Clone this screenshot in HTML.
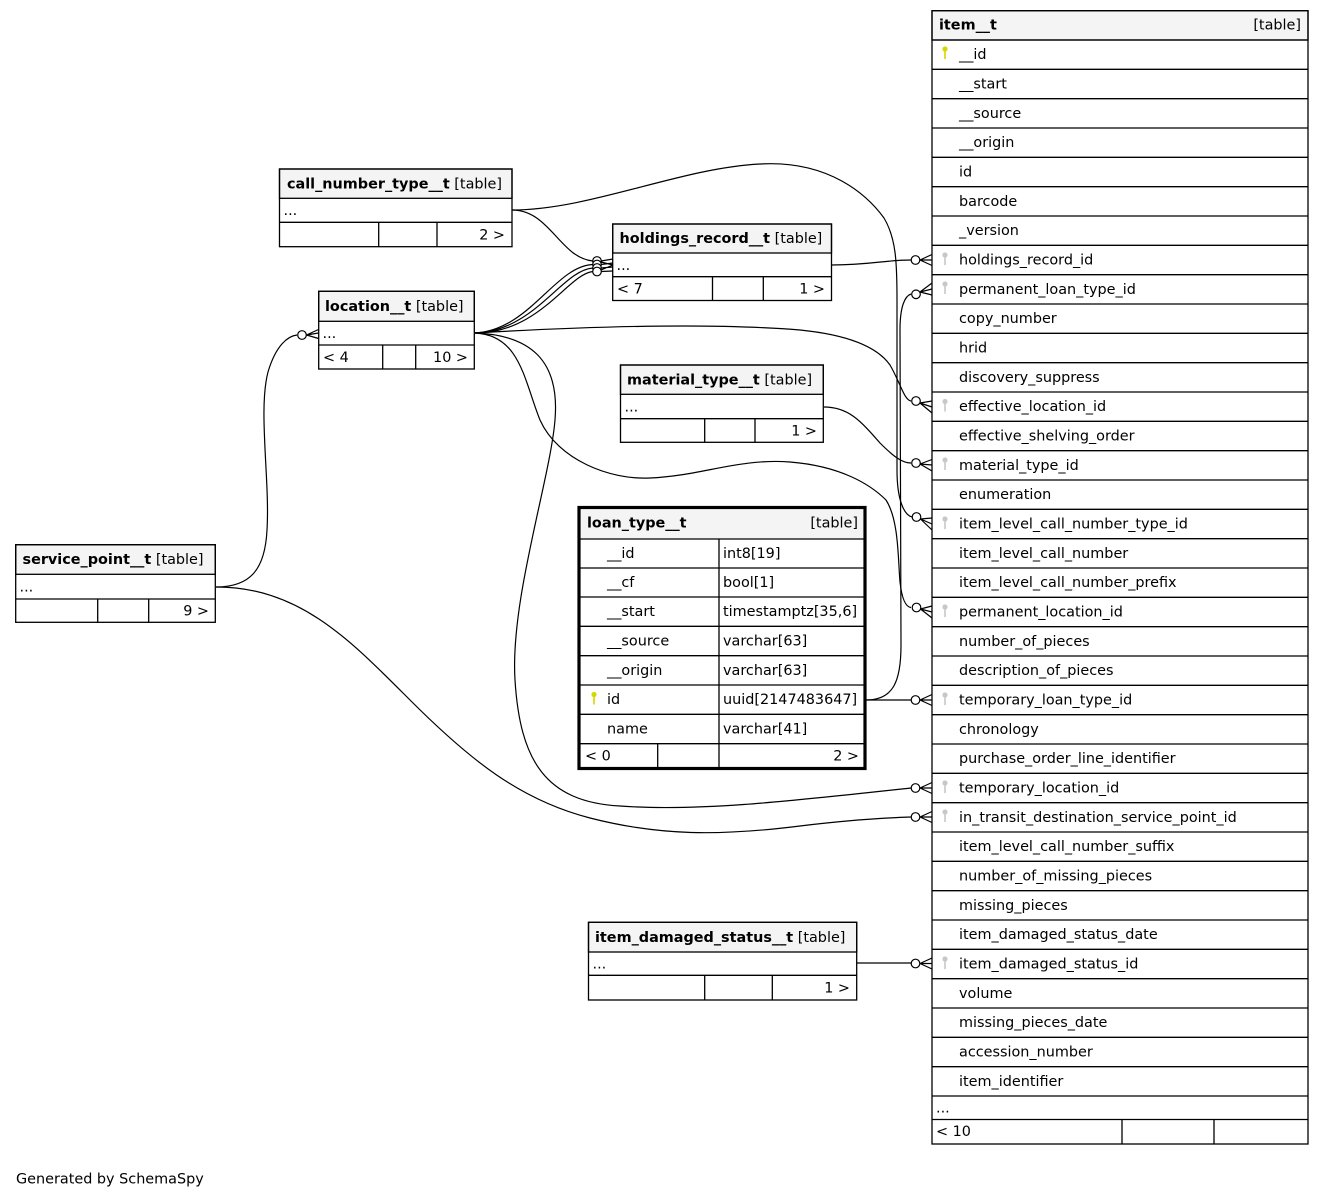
<!DOCTYPE html>
<html><head><meta charset="utf-8"><style>
html,body{margin:0;padding:0;background:#fff;}
svg{display:block;}
text{font-family:"DejaVu Sans","Liberation Sans",sans-serif;font-size:14.4px;fill:#000;}
.b{font-weight:bold;}
.t{fill:none;stroke:#000;stroke-width:1.3;}
.h{fill:#f4f4f4;stroke:#000;stroke-width:1.3;}
.e{fill:none;stroke:#000;stroke-width:1.2;}
.c{fill:#fff;stroke:#000;stroke-width:1.2;}
.k{fill:#c8c8c8;}
.y{fill:#d6d600;}
</style></head><body>
<svg width="1324" height="1199" viewBox="0 0 1324 1199" xmlns="http://www.w3.org/2000/svg">
<defs>
<g id="gk"><circle cx="0" cy="0" r="2.6" class="k"/><rect x="-0.8" y="1" width="1.6" height="9" class="k"/></g>
<g id="yk"><circle cx="0" cy="0" r="2.6" class="y"/><rect x="-0.8" y="1" width="1.6" height="9" class="y"/></g>
</defs>

<!-- ================= EDGES ================= -->
<!-- call_number_type -> item_level_call_number_type_id -->
<path class="e" d="M512,210 C590,210 680,168 760,164 C830,160 868,196 884,218 C896,238 897,262 897,300 L897,470 C897,500 904,515 912,517"/>
<!-- call_number_type -> holdings_record -->
<path class="e" d="M512,210 C550,210 560,258 593,261"/>
<!-- location -> holdings (3) -->
<path class="e" d="M475,333 C530,330 555,266 593,264.5"/>
<path class="e" d="M475,333 C535,331 562,270 593,268"/>
<path class="e" d="M475,333 C540,333 568,274 593,271.5"/>
<!-- holdings -> item -->
<path class="e" d="M832,265 C870,265 885,260 911,260"/>
<!-- loan_type -> permanent_loan_type_id -->
<path class="e" d="M866,700 C893,700 901,682 901,645 L900,330 C900,306 905,296 911,294"/>
<!-- location -> effective_location_id -->
<path class="e" d="M475,333 C560,328 700,322 800,330 C850,335 878,348 890,365 C900,382 904,400 911,401"/>
<!-- material -> material_type_id -->
<path class="e" d="M824,407 C848,407 860,420 880,443 C895,458 903,463 911,463"/>
<!-- location -> permanent_location_id -->
<path class="e" d="M475,333 C520,335 524,380 540,420 C558,460 610,480 650,478 C700,476 740,458 790,462 C840,466 870,484 886,500 C899,520 898,560 900,582 C902,600 906,607 911,607.5"/>
<!-- location -> temporary_location_id -->
<path class="e" d="M475,333 C530,335 560,360 555,420 C550,480 510,600 515,680 C520,760 545,802 620,806 C700,812 800,800 911,788"/>
<!-- loan_type -> temporary_loan_type_id -->
<path class="e" d="M866,700 L911,700"/>
<!-- service_point -> location -->
<path class="e" d="M216,587 C250,587 265,570 267,530 C270,480 258,410 268,372 C276,345 288,336 297,335"/>
<!-- service_point -> in_transit -->
<path class="e" d="M216,587 C300,587 350,640 410,700 C470,760 520,800 590,818 C660,836 720,836 800,826 C850,820 880,818 911,817"/>
<!-- damaged -> item -->
<path class="e" d="M857,963 L911,963"/>

<!-- crow's feet + circles at item_t -->
<g>
<circle class="c" cx="915.5" cy="260" r="4.3"/><path class="e" d="M920,260 L932,254.5 M920,260 L932,260 M920,260 L932,265.5"/>
<circle class="c" cx="916" cy="294.3" r="4.3"/><path class="e" d="M920,292 L932,283 M920,292 L932,289 M920,292 L932,295"/>
<circle class="c" cx="916" cy="401" r="4.3"/><path class="e" d="M920,403 L932,401 M920,403 L932,407 M920,403 L932,413"/>
<circle class="c" cx="916" cy="463" r="4.3"/><path class="e" d="M920,464 L932,459.5 M920,464 L932,465 M920,464 L932,471"/>
<circle class="c" cx="916.5" cy="517" r="4.3"/><path class="e" d="M920.5,519 L932,518 M920.5,519 L932,524 M920.5,519 L932,530"/>
<circle class="c" cx="916.5" cy="607.5" r="4.3"/><path class="e" d="M920.5,609 L932,606 M920.5,609 L932,612 M920.5,609 L932,618"/>
<circle class="c" cx="915.5" cy="700" r="4.3"/><path class="e" d="M920,700 L932,694.5 M920,700 L932,700 M920,700 L932,705.5"/>
<circle class="c" cx="915.5" cy="788" r="4.3"/><path class="e" d="M920,788 L932,782.5 M920,788 L932,788 M920,788 L932,793.5"/>
<circle class="c" cx="915.5" cy="817" r="4.3"/><path class="e" d="M920,817 L932,811.5 M920,817 L932,817 M920,817 L932,822.5"/>
<circle class="c" cx="915.5" cy="963.5" r="4.3"/><path class="e" d="M920,963.5 L932,958 M920,963.5 L932,963.5 M920,963.5 L932,969"/>
</g>
<!-- at location -->
<circle class="c" cx="302" cy="335" r="4.3"/><path class="e" d="M306.5,335 L318.5,329.5 M306.5,335 L318.5,333 M306.5,335 L318.5,338.5"/>
<!-- at holdings -->
<circle class="c" cx="597" cy="261" r="4.3"/>
<circle class="c" cx="597" cy="264.5" r="4.3"/>
<circle class="c" cx="597" cy="268" r="4.3"/>
<circle class="c" cx="597" cy="271.5" r="4.3"/>
<path class="e" d="M601,261 L613,259 M601,264.5 L613,263 M601,268 L613,267 M601,271.5 L613,271 M601,262 L613,265 M601,270 L613,265"/>

<!-- ================= item__t ================= -->
<rect class="h" x="932" y="10.7" width="376" height="29.3"/>
<text class="b" x="939" y="29.5">item__t</text>
<text x="1301" y="29.5" text-anchor="end">[table]</text>
<rect class="t" x="932" y="10.7" width="376" height="1133.3"/>
<g class="t">
<path class="t" d="M932,40H1308 M932,69.33H1308 M932,98.67H1308 M932,128H1308 M932,157.33H1308 M932,186.67H1308 M932,216H1308 M932,245.33H1308 M932,274.67H1308 M932,304H1308 M932,333.33H1308 M932,362.67H1308 M932,392H1308 M932,421.33H1308 M932,450.67H1308 M932,480H1308 M932,509.33H1308 M932,538.67H1308 M932,568H1308 M932,597.33H1308 M932,626.67H1308 M932,656H1308 M932,685.33H1308 M932,714.67H1308 M932,744H1308 M932,773.33H1308 M932,802.67H1308 M932,832H1308 M932,861.33H1308 M932,890.67H1308 M932,920H1308 M932,949.33H1308 M932,978.67H1308 M932,1008H1308 M932,1037.33H1308 M932,1066.67H1308 M932,1096H1308 M932,1119.5H1308 M1122,1119.5V1144 M1214,1119.5V1144"/>
</g>
<use href="#yk" x="945" y="49"/>
<use href="#gk" x="945" y="255"/>
<use href="#gk" x="945" y="284"/>
<use href="#gk" x="945" y="401.5"/>
<use href="#gk" x="945" y="460"/>
<use href="#gk" x="945" y="519"/>
<use href="#gk" x="945" y="607"/>
<use href="#gk" x="945" y="695"/>
<use href="#gk" x="945" y="783"/>
<use href="#gk" x="945" y="812"/>
<use href="#gk" x="945" y="959"/>
<text x="959" y="59.2">__id</text>
<text x="959" y="88.5">__start</text>
<text x="959" y="117.8">__source</text>
<text x="959" y="147.2">__origin</text>
<text x="959" y="176.5">id</text>
<text x="959" y="205.8">barcode</text>
<text x="959" y="235.2">_version</text>
<text x="959" y="264.5">holdings_record_id</text>
<text x="959" y="293.8">permanent_loan_type_id</text>
<text x="959" y="323.2">copy_number</text>
<text x="959" y="352.5">hrid</text>
<text x="959" y="381.8">discovery_suppress</text>
<text x="959" y="411.2">effective_location_id</text>
<text x="959" y="440.5">effective_shelving_order</text>
<text x="959" y="469.8">material_type_id</text>
<text x="959" y="499.2">enumeration</text>
<text x="959" y="528.5">item_level_call_number_type_id</text>
<text x="959" y="557.8">item_level_call_number</text>
<text x="959" y="587.2">item_level_call_number_prefix</text>
<text x="959" y="616.5">permanent_location_id</text>
<text x="959" y="645.8">number_of_pieces</text>
<text x="959" y="675.2">description_of_pieces</text>
<text x="959" y="704.5">temporary_loan_type_id</text>
<text x="959" y="733.8">chronology</text>
<text x="959" y="763.2">purchase_order_line_identifier</text>
<text x="959" y="792.5">temporary_location_id</text>
<text x="959" y="821.8">in_transit_destination_service_point_id</text>
<text x="959" y="851.2">item_level_call_number_suffix</text>
<text x="959" y="880.5">number_of_missing_pieces</text>
<text x="959" y="909.8">missing_pieces</text>
<text x="959" y="939.2">item_damaged_status_date</text>
<text x="959" y="968.5">item_damaged_status_id</text>
<text x="959" y="997.8">volume</text>
<text x="959" y="1027.2">missing_pieces_date</text>
<text x="959" y="1056.5">accession_number</text>
<text x="959" y="1085.8">item_identifier</text>
<text x="936" y="1112.5">...</text>
<text x="936" y="1136">&lt; 10</text>

<!-- ================= call_number_type__t ================= -->
<rect class="h" x="279.5" y="169" width="232.5" height="29.3"/>
<rect class="t" x="279.5" y="169" width="232.5" height="77.7"/>
<path class="t" d="M279.5,222.3H512 M378.7,222.3V246.7 M437,222.3V246.7"/>
<text x="287" y="188.5"><tspan class="b">call_number_type__t</tspan> [table]</text>
<text x="283.5" y="215">...</text>
<text x="505" y="239.5" text-anchor="end">2 &gt;</text>

<!-- ================= holdings_record__t ================= -->
<rect class="h" x="612.7" y="224" width="218.8" height="29"/>
<rect class="t" x="612.7" y="224" width="218.8" height="76.5"/>
<path class="t" d="M612.7,276.7H831.5 M712.5,276.7V300.5 M763.3,276.7V300.5"/>
<text x="619.5" y="243"><tspan class="b">holdings_record__t</tspan> [table]</text>
<text x="616.5" y="270">...</text>
<text x="617" y="293.5">&lt; 7</text>
<text x="825" y="293.5" text-anchor="end">1 &gt;</text>

<!-- ================= location__t ================= -->
<rect class="h" x="318.7" y="291.3" width="155.6" height="30"/>
<rect class="t" x="318.7" y="291.3" width="155.6" height="77.7"/>
<path class="t" d="M318.7,345H474.3 M382.7,345V369 M415.7,345V369"/>
<text x="325" y="311"><tspan class="b">location__t</tspan> [table]</text>
<text x="322.5" y="338">...</text>
<text x="323" y="362">&lt; 4</text>
<text x="468" y="362" text-anchor="end">10 &gt;</text>

<!-- ================= material_type__t ================= -->
<rect class="h" x="620.5" y="365" width="202.8" height="29.3"/>
<rect class="t" x="620.5" y="365" width="202.8" height="77.3"/>
<path class="t" d="M620.5,418.7H823.3 M704.7,418.7V442.3 M755,418.7V442.3"/>
<text x="627" y="384.5"><tspan class="b">material_type__t</tspan> [table]</text>
<text x="624.5" y="411.5">...</text>
<text x="817" y="435.5" text-anchor="end">1 &gt;</text>

<!-- ================= loan_type__t ================= -->
<rect class="h" x="579.5" y="508" width="285" height="31" style="stroke:none"/>
<path class="t" d="M579.5,539H864.5 M579.5,568H864.5 M579.5,597H864.5 M579.5,626.3H864.5 M579.5,655.7H864.5 M579.5,685H864.5 M579.5,714.3H864.5 M579.5,743.7H864.5 M719,539V768 M657.7,743.7V768"/>
<rect x="579" y="507.5" width="286" height="261" style="fill:none;stroke:#000;stroke-width:3.2"/>
<text class="b" x="587" y="527.5">loan_type__t</text>
<text x="858" y="527.5" text-anchor="end">[table]</text>
<use href="#yk" x="594" y="694.5"/>
<text x="607" y="558">__id</text><text x="723" y="558">int8[19]</text>
<text x="607" y="587">__cf</text><text x="723" y="587">bool[1]</text>
<text x="607" y="616.2">__start</text><text x="723" y="616.2">timestamptz[35,6]</text>
<text x="607" y="645.5">__source</text><text x="723" y="645.5">varchar[63]</text>
<text x="607" y="674.8">__origin</text><text x="723" y="674.8">varchar[63]</text>
<text x="607" y="704">id</text><text x="723" y="704">uuid[2147483647]</text>
<text x="607" y="733.3">name</text><text x="723" y="733.3">varchar[41]</text>
<text x="585" y="760.5">&lt; 0</text>
<text x="859" y="760.5" text-anchor="end">2 &gt;</text>

<!-- ================= service_point__t ================= -->
<rect class="h" x="15.7" y="544.7" width="199.6" height="29.6"/>
<rect class="t" x="15.7" y="544.7" width="199.6" height="77.6"/>
<path class="t" d="M15.7,599H215.3 M97.7,599V622.3 M148.7,599V622.3"/>
<text x="22.5" y="564"><tspan class="b">service_point__t</tspan> [table]</text>
<text x="19.5" y="591.5">...</text>
<text x="209" y="615.5" text-anchor="end">9 &gt;</text>

<!-- ================= item_damaged_status__t ================= -->
<rect class="h" x="588.5" y="922.3" width="268.2" height="29.7"/>
<rect class="t" x="588.5" y="922.3" width="268.2" height="77.7"/>
<path class="t" d="M588.5,975.3H856.7 M704.7,975.3V1000 M772.3,975.3V1000"/>
<text x="595" y="942"><tspan class="b">item_damaged_status__t</tspan> [table]</text>
<text x="592.5" y="968.5">...</text>
<text x="850" y="992.5" text-anchor="end">1 &gt;</text>

<text x="16" y="1183.5">Generated by SchemaSpy</text>
</svg>
</body></html>
